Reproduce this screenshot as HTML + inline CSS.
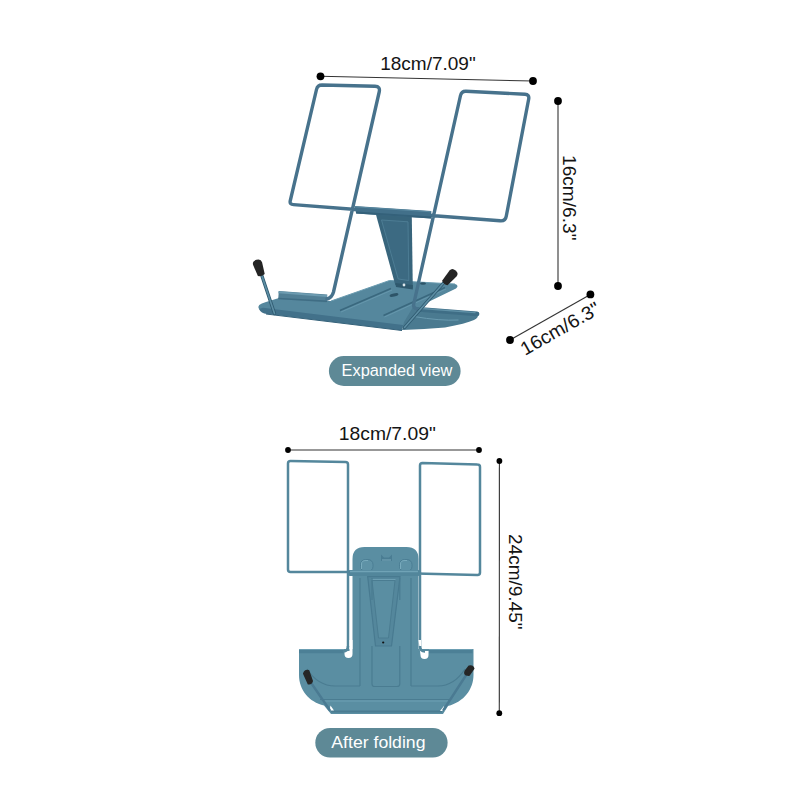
<!DOCTYPE html>
<html><head><meta charset="utf-8">
<style>
html,body{margin:0;padding:0;background:#fff;width:800px;height:800px;overflow:hidden}
svg{display:block}
text{font-family:"Liberation Sans",sans-serif}
</style></head>
<body>
<svg width="800" height="800" viewBox="0 0 800 800">
<rect width="800" height="800" fill="#fff"/>

<!-- ============ DIMENSIONS (expanded) ============ -->
<g stroke="#333" stroke-width="1.1" fill="none">
  <line x1="320.5" y1="76.3" x2="533" y2="81"/>
  <line x1="558" y1="101" x2="558" y2="286"/>
  <line x1="510" y1="340" x2="590.4" y2="294.4"/>
  <line x1="288" y1="450" x2="479" y2="450"/>
  <line x1="499.4" y1="461" x2="499.3" y2="713.2"/>
</g>
<g fill="#000">
  <circle cx="320.5" cy="76.3" r="3.9"/>
  <circle cx="533" cy="81" r="3.9"/>
  <circle cx="558" cy="101" r="3.9"/>
  <circle cx="558" cy="286" r="3.9"/>
  <circle cx="510" cy="340" r="3.9"/>
  <circle cx="590.4" cy="294.4" r="3.9"/>
  <circle cx="288" cy="450" r="2.9"/>
  <circle cx="479" cy="450" r="2.9"/>
  <circle cx="499.4" cy="461" r="2.9"/>
  <circle cx="499.3" cy="713.2" r="2.9"/>
</g>
<g fill="#141414" font-size="19">
  <text x="380.2" y="69.5" textLength="95.5" lengthAdjust="spacingAndGlyphs">18cm/7.09"</text>
  <text x="338.8" y="440.3" textLength="97" lengthAdjust="spacingAndGlyphs">18cm/7.09"</text>
  <text transform="translate(563.3,155) rotate(90)" x="0" y="0" textLength="85.5" lengthAdjust="spacingAndGlyphs">16cm/6.3"</text>
  <text transform="translate(508.8,534) rotate(90)" x="0" y="0" textLength="95.5" lengthAdjust="spacingAndGlyphs">24cm/9.45"</text>
  <text transform="translate(525,356) rotate(-29.6)" x="0" y="0" textLength="88" lengthAdjust="spacingAndGlyphs">16cm/6.3"</text>
</g>

<!-- ============ EXPANDED STAND ============ -->
<g id="expanded">
  <!-- base plate top surface -->
  <path d="M266,302 Q256,304.5 259,309 L263,311 L402,328.5 L424,304 L456,288.5 Q459.5,285.5 455,284 L389.5,280.5 L331,301 L279,298 Z" fill="#55879d"/>
  <!-- front face -->
  <path d="M259,309 Q261,313.5 267,314 L402,330.5 L403,325 L263,307.8 Z" fill="#42718a"/><path d="M266,314 L402,330.5" stroke="#35627a" stroke-width="1" fill="none"/>
  <!-- light back edge highlight -->
  <path d="M331,301 L389.5,280.5 L455,284" stroke="#6a9bb0" stroke-width="1" fill="none"/>
  <!-- grooves -->
  <path d="M340,310.5 L391,288.5 M383.5,315.5 L445,287.5" stroke="#3a687e" stroke-width="1.6" fill="none"/>
  <path d="M341,312 L392,290 M384.5,317 L446,289" stroke="#6a9bb0" stroke-width="0.8" fill="none"/>
  <!-- slots -->
  <ellipse cx="394" cy="295" rx="4.5" ry="1.6" fill="#2d5468" transform="rotate(-12 394 295)"/>
  <ellipse cx="423" cy="283.5" rx="3" ry="1.2" fill="#2d5468"/>
  <!-- right half disc -->
  <path d="M413,307 L477.5,313.5 Q479,318 474,320 Q466,323.5 445,327.6 Q425,329.5 402,330 L404,322 Z" fill="#4a7a90"/>
  <path d="M414,316.5 Q440,321 458.5,320" stroke="#6a9bb0" stroke-width="1" fill="none"/>
  <!-- left tube -->
  <path d="M278.5,295 L327,298.5" stroke="#517f95" stroke-width="8" stroke-linecap="butt" fill="none"/>
  <path d="M278.5,292.3 L327,296" stroke="#6c9bb0" stroke-width="2" stroke-linecap="butt" fill="none"/>
  <path d="M278.5,298.5 L327,301.2" stroke="#3f6d84" stroke-width="1.6" stroke-linecap="butt" fill="none"/>
  <!-- right tube -->
  <path d="M419,309.3 L477,313.9" stroke="#3f6e86" stroke-width="4.8" stroke-linecap="round" fill="none"/>
  <path d="M419,308.2 L475,312.6" stroke="#5f90a6" stroke-width="1.4" stroke-linecap="round" fill="none"/>

  <!-- triangle support -->
  <path d="M375.8,214 L411.8,216.5 L412.8,288 L395.3,285 Z" fill="#38657c"/>
  <path d="M381.5,220 L408,221.8 L408.8,280.5 L398.2,279 Z" fill="#3c6a82" stroke="#4f7f96" stroke-width="0.9"/>
  <path d="M395.3,283 L412.8,285 L412.8,289.5 L396,287 Z" fill="#2e586d"/>
  <circle cx="404" cy="285" r="1.4" fill="#dfe8ec"/>

  <!-- wires -->
  <g stroke="#47728c" stroke-width="3.4" fill="none" stroke-linejoin="round" stroke-linecap="round">
    <!-- left frame -->
    <path d="M327,299 Q332,297.5 333.5,292 L379.2,92 Q380.5,86.5 375,86.3 L322,85 Q317.5,85 316.5,89.5 L290.2,201 Q289.5,204.6 293.5,204.6 L356,209.5"/>
    <!-- right frame -->
    <path d="M431,215.5 L500,220.8 Q505.5,221.3 506.3,216 L528.7,99 Q529.5,94.5 525,94.3 L466,91.2 Q461.5,91 460.5,95.5 L413.5,305 Q413.5,308 417,309"/>
  </g>
  <!-- hinge plate -->
  <path d="M354.4,206 L431.3,211 L431.3,218.6 L356.2,213.6 Z" fill="#42708a"/><path d="M356.2,212.6 L431.3,217.4" stroke="#34617a" stroke-width="2" fill="none"/>
  <path d="M354.8,206.8 L431,211.8" stroke="#5a8aa2" stroke-width="1" fill="none"/>

  <!-- props -->
  <path d="M261.3,274 L274.5,313.5" stroke="#2f5a70" stroke-width="3.3" stroke-linecap="round"/>
  <path d="M261.3,274 L274.5,313.5" stroke="#5d8ea4" stroke-width="1.6" stroke-linecap="round"/>
  <path transform="translate(261.3,275) rotate(-18)" d="M-3.6,0 L-4.7,-12 Q-4.7,-16 0,-16 Q4.7,-16 4.7,-12 L3.6,0 Q0,1.8 -3.6,0 Z" fill="#242424"/>
  <path d="M443.5,283 L404.5,327.5" stroke="#2f5a70" stroke-width="3.3" stroke-linecap="round"/>
  <path d="M443.5,283 L404.5,327.5" stroke="#5d8ea4" stroke-width="1.6" stroke-linecap="round"/>
  <path transform="translate(444.8,283) rotate(41)" d="M-3.6,0 L-4.6,-12.5 Q-4.6,-16.5 0,-16.5 Q4.6,-16.5 4.6,-12.5 L3.6,0 Q0,1.8 -3.6,0 Z" fill="#242424"/>
</g>

<!-- button 1 -->
<rect x="328.9" y="356.1" width="131.7" height="29.8" rx="14.9" fill="#5e8996"/>
<text x="341.6" y="375.9" font-size="16.3" fill="#fff" textLength="110.8" lengthAdjust="spacingAndGlyphs">Expanded view</text>

<!-- ============ FOLDED STAND ============ -->
<g id="folded">
  <!-- wires (frames) -->
  <g stroke="#54879c" stroke-width="2.5" fill="none" stroke-linejoin="round">
    <path d="M348,651 L348,464.5 Q348,462 345.5,462 L290.5,461 Q288,461 288,463.5 L288,569.5 Q288,572 290.5,572 L352,572"/>
    <path d="M416,573.5 L477.5,575 Q480,575 480,572.5 L480,467 Q480,464.5 477.5,464.5 L422.5,463 Q420,463 420,465.5 L420,651"/>
  </g>
  <!-- plate -->
  <path d="M352.5,649 V559 Q352.5,547 364.5,547 H406.5 Q418.5,547 418.5,559 V649 H473.5 V675 C473.5,689 464,702 448,706 L443,714 H331 L324,705.5 C309,702 299,690 299,675 V649 Z" fill="#5a8ea2"/>
  <!-- notches -->
  <path d="M349.5,640 H352.5 V654 A4,4 0 0 1 344.5,654 V651 H349.5 Z" fill="#fff"/>
  <path d="M418.5,640 H421 V651 H428.5 V655 A4,4 0 0 1 420.5,655 Z" fill="#fff"/>
  <!-- lip along base top -->
  <path d="M299,651.5 H344 M429,651.5 H472.5" stroke="#4c8096" stroke-width="3.6"/>
  <path d="M299,649.5 H344 M429,649.5 H472.5" stroke="#6c9fb3" stroke-width="1"/>
  <!-- wire bends into lip -->
  <path d="M348,646 Q348,651.5 343,651.5 M420,646 Q420,651.5 425,651.5" stroke="#54879c" stroke-width="2.5" fill="none"/>
  <!-- bumps / notch -->
  <rect x="360.5" y="559.5" width="12.5" height="12" rx="5" fill="#5e92a6" stroke="#4b7e94" stroke-width="1"/><path d="M361.5,569 V564 Q361.5,560.5 366,560.5 H368" stroke="#79abbd" stroke-width="1" fill="none"/>
  <rect x="399.5" y="559.5" width="12.5" height="12" rx="5" fill="#5e92a6" stroke="#4b7e94" stroke-width="1"/><path d="M400.5,569 V564 Q400.5,560.5 405,560.5 H407" stroke="#79abbd" stroke-width="1" fill="none"/>
  <path d="M381,554.5 L384,557.5 L389,557.5 L392,554.5 L392,561 L381,561 Z" fill="#4a7d93"/><path d="M382,560 H391" stroke="#7aaabb" stroke-width="1"/>
  <!-- crossbar -->
  <path d="M350,573 H418" stroke="#52869b" stroke-width="6" stroke-linecap="round"/>
  <path d="M350,571.5 H418" stroke="#70a3b6" stroke-width="1.5"/>
  <!-- triangle -->
  <path d="M367.7,576.7 L400,576.7 L391.5,646 L375.5,646 Z" fill="#54879c" stroke="#487a90" stroke-width="1.2"/>
  <path d="M372,580.5 L395,580.5 L388.5,638 L378.5,638 Z" fill="#5a8ea2" stroke="#4a7c91" stroke-width="1"/><path d="M371.5,579.5 L395.5,579.5" stroke="#74a6b9" stroke-width="0.8"/>
  <circle cx="383.2" cy="642.5" r="1.1" fill="#111"/>
  <!-- ridges -->
  <g stroke="#4a7c91" stroke-width="1.2" fill="none">
    <path d="M360,578 V686 M411,578 V686"/>
    <path d="M372,646 V684 Q372,686.5 374.5,686.5 H397 Q399.8,686.5 399.8,684 V646"/>
    <path d="M372,578 V600 M399.8,578 V600"/>
    <path d="M307,669 Q318,686 335,686 H360 M411,686 H438 Q454,686 465,669"/>
    <path d="M320,699.5 H450"/>
  </g>
  <path d="M322,701 H448" stroke="#6c9fb3" stroke-width="1" fill="none"/>
  <path d="M331,711.5 H442" stroke="#4a7c91" stroke-width="2" fill="none"/>
  <!-- white gaps at bottom -->
  <path d="M330.5,705.5 L334,710.5 L329.5,710.5 Z M444,706 L440,711 L444.5,711 Z" fill="#fff"/>
  <!-- props -->
  <path d="M310.5,682 L329.7,710" stroke="#4a7a92" stroke-width="2.4" stroke-linecap="round"/>
  <path d="M466.5,674.5 L443.5,710" stroke="#4a7a92" stroke-width="2.4" stroke-linecap="round"/>
  <path d="M304,673.5 Q305,670 308.5,671 L312,681 Q311,684 308.5,683.5 Z" fill="#262626" stroke="#262626" stroke-width="2" stroke-linejoin="round"/>
  <path d="M466,674.5 Q464.5,673.5 465.5,671 L469,666.5 Q472.5,665.5 473.5,668.5 L469,675 Z" fill="#262626" stroke="#262626" stroke-width="2" stroke-linejoin="round"/>
</g>

<!-- button 2 -->
<rect x="315.3" y="727.9" width="132.3" height="29.6" rx="14.8" fill="#5e8996"/>
<text x="331.3" y="748.3" font-size="17" fill="#fff" textLength="94.2" lengthAdjust="spacingAndGlyphs">After folding</text>

</svg>
</body></html>
